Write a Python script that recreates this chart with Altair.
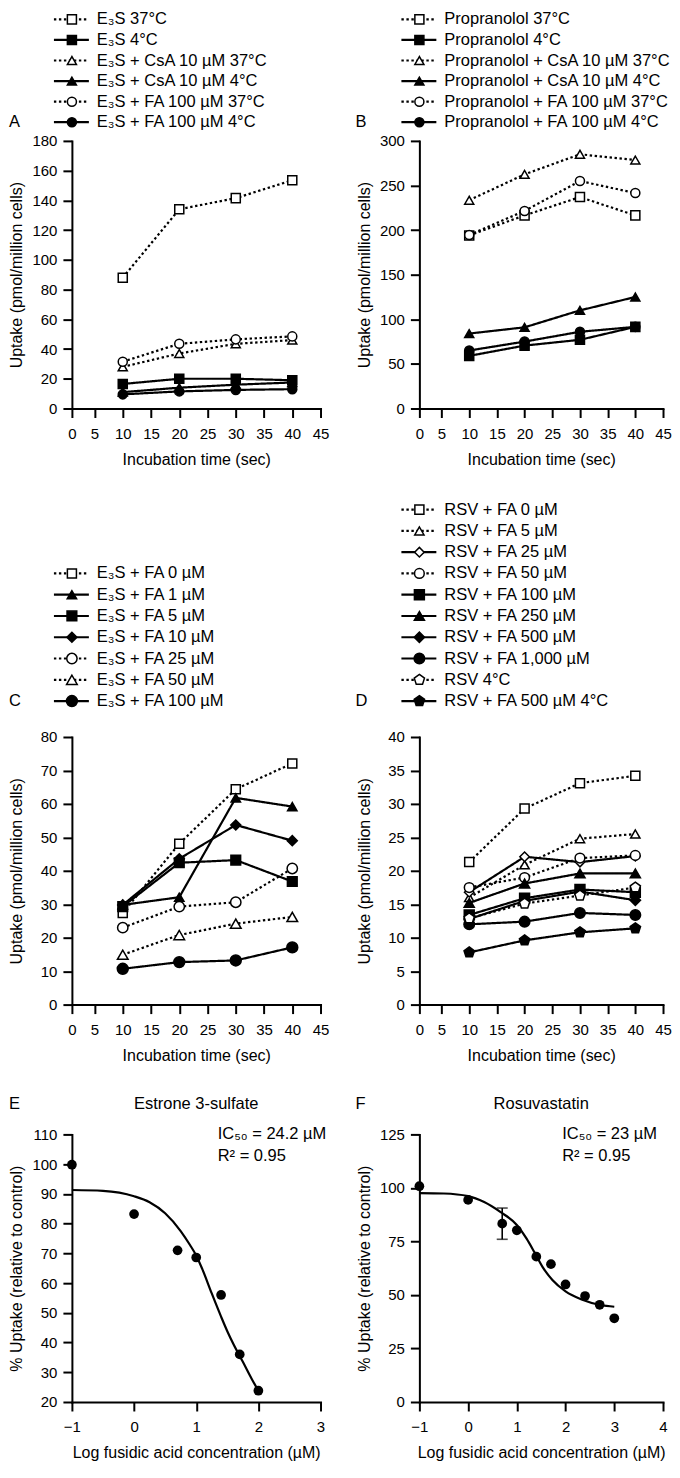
import altair as alt
import pandas as pd

FONT = "Liberation Sans"
INK = "#000000"

# ---------------- data ----------------
times = [10, 20, 30, 40]

a_labels = ["E₃S 37°C", "E₃S 4°C", "E₃S + CsA 10 µM 37°C", "E₃S + CsA 10 µM 4°C",
            "E₃S + FA 100 µM 37°C", "E₃S + FA 100 µM 4°C"]
a_e3s_37 = [88, 134, 141.5, 153.5]
a_e3s_4 = [16.5, 20, 20, 19]
a_csa_37 = [28, 37, 43.5, 46]
a_csa_4 = [11, 14, 16, 17.5]
a_fa_37 = [31.5, 43.5, 46.5, 48.5]
a_fa_4 = [9.5, 11.5, 12.5, 13]

b_labels = ["Propranolol 37°C", "Propranolol 4°C", "Propranolol + CsA 10 µM 37°C",
            "Propranolol + CsA 10 µM 4°C", "Propranolol + FA 100 µM 37°C",
            "Propranolol + FA 100 µM 4°C"]
b_p_37 = [194, 216.5, 237, 216.5]
b_p_4 = [59, 70.5, 77, 91.5]
b_csa_37 = [233.5, 262.5, 285, 278.5]
b_csa_4 = [84, 91, 110, 125]
b_fa_37 = [194.5, 221.5, 255, 241.5]
b_fa_4 = [65, 75, 86, 91.5]

c_labels = ["E₃S + FA 0 µM", "E₃S + FA 1 µM", "E₃S + FA 5 µM", "E₃S + FA 10 µM",
            "E₃S + FA 25 µM", "E₃S + FA 50 µM", "E₃S + FA 100 µM"]
c_fa0 = [27.4, 48.1, 64.4, 72.1]
c_fa1 = [29.8, 32.1, 61.8, 59.2]
c_fa5 = [29.3, 42.4, 43.2, 36.8]
c_fa10 = [29.8, 43.6, 53.7, 49.0]
c_fa25 = [23.0, 29.3, 30.6, 40.7]
c_fa50 = [14.9, 20.8, 24.2, 26.2]
c_fa100 = [10.7, 12.7, 13.2, 17.1]

d_labels = ["RSV + FA 0 µM", "RSV + FA 5 µM", "RSV + FA 25 µM", "RSV + FA 50 µM",
            "RSV + FA 100 µM", "RSV + FA 250 µM", "RSV + FA 500 µM", "RSV + FA 1,000 µM",
            "RSV 4°C", "RSV + FA 500 µM 4°C"]
d_fa0 = [21.3, 29.3, 33.1, 34.2]
d_fa5 = [16.0, 20.9, 24.8, 25.5]
d_fa25 = [16.8, 22.1, 21.3, 22.2]
d_fa50 = [17.5, 19.0, 21.9, 22.3]
d_fa100 = [13.4, 15.9, 17.2, 16.8]
d_fa250 = [15.2, 18.1, 19.6, 19.6]
d_fa500 = [12.8, 15.5, 16.9, 15.6]
d_fa1000 = [12.0, 12.4, 13.7, 13.4]
d_4c = [12.9, 15.1, 16.3, 17.5]
d_fa500_4c = [7.8, 9.6, 10.8, 11.4]

# E: estrone 3-sulfate inhibition (log concentration)
e_logc = [-1, 0, 0.7, 1, 1.4, 1.7, 2]
e_uptake = [99.8, 83.2, 71.0, 68.6, 56.0, 36.0, 23.8]
e_fit_x = [-1, -0.5, 0, 0.25, 0.5, 0.75, 0.9, 1.0, 1.1, 1.25, 1.4, 1.5, 1.6, 1.75, 1.9, 2.0]
e_fit_y = [91.3, 91.0, 89.2, 87.2, 83.5, 77.5, 72.8, 69.3, 64.6, 56.5, 48.7, 43.8, 39.4, 33.5, 27.5, 23.8]

# F: rosuvastatin inhibition
f_logc = [-1, 0, 0.7, 1, 1.4, 1.7, 2, 2.4, 2.7, 3]
f_uptake = [100.8, 94.4, 83.3, 80.2, 67.9, 64.4, 54.9, 49.5, 45.4, 39.1]
f_err_x = [0.7]
f_err_lo = [76.0]
f_err_hi = [90.6]
f_fit_x = [-1, -0.5, 0, 0.33, 0.66, 1.0, 1.2, 1.36, 1.53, 1.73, 2.0, 2.33, 2.72, 3.0]
f_fit_y = [97.6, 97.4, 96.2, 93.4, 88.8, 82.7, 76.3, 70.0, 63.0, 57.0, 51.7, 47.9, 45.3, 44.5]

# ---------------- styles ----------------
PENT = "M0,-1L0.951,-0.309L0.588,0.809L-0.588,0.809L-0.951,-0.309Z"
SHAPE_SIZE = {"square": 82, "triangle-up": 120, "circle": 82, "diamond": 115, PENT: 110}
DOT = [2.4, 2.6]
SOLID = [1, 0]
LEG_FS = 16.5

ab_shapes = ["square", "square", "triangle-up", "triangle-up", "circle", "circle"]
ab_filled = [False, True, False, True, False, True]
ab_dotted = [True, False, True, False, True, False]
c_shapes = ["square", "triangle-up", "square", "diamond", "circle", "triangle-up", "circle"]
c_filled = [False, True, True, True, False, False, True]
c_dotted = [True, False, False, False, True, True, False]
d_shapes = ["square", "triangle-up", "diamond", "circle", "square", "triangle-up",
            "diamond", "circle", PENT, PENT]
d_filled = [False, False, False, False, True, True, True, True, False, True]
d_dotted = [True, True, False, True, False, False, False, False, True, False]

# ---------------- layout ----------------
COL1_W = 249
COL2_W = 244
COL_GAP = 99
PLOT_H = 268
LEG1_H = 132
LEG1_STEP = 20.6
LEG3_H = 329
LEG3_STEP = 21.3
LEG3_BOTTOM = 25.35
HDR_H = 130
LETTER_X1 = -63
LETTER_X2 = -64

AXIS_BASE = dict(domainColor=INK, domainWidth=2, domainCap="square", tickColor=INK,
                 tickWidth=2, tickSize=9, labelColor=INK, labelFont=FONT,
                 labelFontSize=15, titleFont=FONT, titleFontSize=16,
                 titleFontWeight="normal", titleColor=INK, grid=False,
                 labelFlush=False, labelOverlap=False)
X_AXIS = dict(AXIS_BASE, labelPadding=9, titlePadding=10)
Y_AXIS = dict(AXIS_BASE, labelPadding=6, titleAngle=270, titleX=-55, titleY=PLOT_H / 2,
              titleAlign="center", titleBaseline="middle")
TIME_TICKS = [1, 5, 10, 15, 20, 25, 30, 35, 40, 45]


def style_enc(labels, shapes, filled, dotted):
    return dict(
        strokeDash=alt.StrokeDash("series:N", legend=None,
                                  scale=alt.Scale(domain=labels,
                                                  range=[DOT if d else SOLID for d in dotted])),
        shape=alt.Shape("series:N", legend=None,
                        scale=alt.Scale(domain=labels, range=shapes)),
        fill=alt.Fill("series:N", legend=None,
                      scale=alt.Scale(domain=labels,
                                      range=[INK if f else "#ffffff" for f in filled])),
        size=alt.Size("series:N", legend=None,
                      scale=alt.Scale(domain=labels, range=[SHAPE_SIZE[s] for s in shapes])),
    )


def band_scale(labels, height, step, bottom_gap):
    n = len(labels)
    bottom = height - bottom_gap
    top = bottom - n * step
    return alt.Scale(type="band", domain=labels, paddingInner=0, paddingOuter=0,
                     range=[top, bottom])


def legend_panel(labels, shapes, filled, dotted, letter, letter_x, width, height, step,
                 bottom_gap):
    df = pd.DataFrame({"series": labels})
    y = alt.Y("series:N", axis=None, scale=band_scale(labels, height, step, bottom_gap))
    enc = style_enc(labels, shapes, filled, dotted)
    rule = alt.Chart(df).mark_rule(color=INK, strokeWidth=2.2).encode(
        y=y, x=alt.value(-18), x2=alt.value(17), strokeDash=enc["strokeDash"])
    pts = alt.Chart(df).mark_point(filled=True, stroke=INK, strokeWidth=1.5, opacity=1).encode(
        y=y, x=alt.value(0), shape=enc["shape"], fill=enc["fill"], size=enc["size"])
    txt = alt.Chart(df).mark_text(align="left", baseline="middle", font=FONT, fontSize=LEG_FS,
                                  color=INK).encode(y=y, x=alt.value(25), text="series:N")
    let = alt.Chart(pd.DataFrame({"series": [labels[-1]], "letter": [letter]})).mark_text(
        align="left", baseline="middle", font=FONT, fontSize=LEG_FS, color=INK).encode(
        y=y, x=alt.value(letter_x), text="letter:N")
    return alt.layer(rule, pts, txt, let).properties(width=width, height=height)


def time_panel(labels, series, shapes, filled, dotted, ymax, ystep, width):
    rows = []
    for lab, vals in zip(labels, series):
        for t, v in zip(times, vals):
            rows.append({"series": lab, "time": t, "value": v})
    df = pd.DataFrame(rows)
    x = alt.X("time:Q", scale=alt.Scale(domain=[1, 45], nice=False, zero=False),
              axis=alt.Axis(values=TIME_TICKS,
                            labelExpr="datum.value == 1 ? '0' : datum.label",
                            title="Incubation time (sec)", **X_AXIS))
    y = alt.Y("value:Q", scale=alt.Scale(domain=[0, ymax], nice=False),
              axis=alt.Axis(values=list(range(0, ymax + 1, ystep)),
                            title="Uptake (pmol/million cells)", **Y_AXIS))
    enc = style_enc(labels, shapes, filled, dotted)
    lines = alt.Chart(df).mark_line(color=INK, strokeWidth=2.2).encode(
        x=x, y=y, detail="series:N", strokeDash=enc["strokeDash"])
    pts = alt.Chart(df).mark_point(filled=True, stroke=INK, strokeWidth=1.5, opacity=1).encode(
        x=x, y=y, shape=enc["shape"], fill=enc["fill"], size=enc["size"])
    return alt.layer(lines, pts).properties(width=width, height=PLOT_H)


def ic_panel(px, py, cx, cy, xmin, xmax, ymin, ymax, ystep, width, ic_text, r2_text,
             err=None):
    x = alt.X("x:Q", scale=alt.Scale(domain=[xmin, xmax], nice=False, zero=False),
              axis=alt.Axis(values=list(range(xmin, xmax + 1)),
                            title="Log fusidic acid concentration (µM)", **X_AXIS))
    y = alt.Y("y:Q", scale=alt.Scale(domain=[ymin, ymax], nice=False, zero=False),
              axis=alt.Axis(values=list(range(ymin, ymax + 1, ystep)),
                            title="% Uptake (relative to control)", **Y_AXIS))
    curve = alt.Chart(pd.DataFrame({"x": cx, "y": cy})).mark_line(
        color=INK, strokeWidth=2.2, interpolate="monotone").encode(x=x, y=y)
    dots = alt.Chart(pd.DataFrame({"x": px, "y": py})).mark_circle(
        color=INK, size=95, opacity=1).encode(x=x, y=y)
    layers = [curve]
    if err is not None:
        ex, lo, hi = err
        bar = alt.Chart(pd.DataFrame({"x": ex, "y": lo, "hi": hi})).mark_rule(
            color=INK, strokeWidth=1.6).encode(x=x, y=y, y2="hi:Q")
        caps = alt.Chart(pd.DataFrame({"x": ex + ex, "y": lo + hi})).mark_tick(
            color=INK, orient="horizontal", size=11, thickness=1.6).encode(x=x, y=y)
        layers += [bar, caps]
    layers.append(dots)
    ann_x = round(0.585 * width)
    for i, t in enumerate([ic_text, r2_text]):
        layers.append(alt.Chart(pd.DataFrame({"t": [t]})).mark_text(
            align="left", baseline="middle", font=FONT, fontSize=LEG_FS, color=INK).encode(
            x=alt.value(ann_x), y=alt.value(21.5 * i), text="t:N"))
    return alt.layer(*layers).properties(width=width, height=PLOT_H)


def header_panel(letter, title, letter_x, width):
    ty = HDR_H - 30.5
    t = alt.Chart(pd.DataFrame({"t": [title]})).mark_text(
        align="center", baseline="middle", font=FONT, fontSize=LEG_FS, color=INK).encode(
        x=alt.value(width / 2), y=alt.value(ty), text="t:N")
    l = alt.Chart(pd.DataFrame({"t": [letter]})).mark_text(
        align="left", baseline="middle", font=FONT, fontSize=LEG_FS, color=INK).encode(
        x=alt.value(letter_x), y=alt.value(ty), text="t:N")
    return alt.layer(t, l).properties(width=width, height=HDR_H)


leg1_bottom = LEG1_H - 6 * LEG1_STEP

legA = legend_panel(a_labels, ab_shapes, ab_filled, ab_dotted, "A", LETTER_X1, COL1_W,
                    LEG1_H, LEG1_STEP, leg1_bottom)
legB = legend_panel(b_labels, ab_shapes, ab_filled, ab_dotted, "B", LETTER_X2, COL2_W,
                    LEG1_H, LEG1_STEP, leg1_bottom)
plotA = time_panel(a_labels, [a_e3s_37, a_e3s_4, a_csa_37, a_csa_4, a_fa_37, a_fa_4],
                   ab_shapes, ab_filled, ab_dotted, 180, 20, COL1_W)
plotB = time_panel(b_labels, [b_p_37, b_p_4, b_csa_37, b_csa_4, b_fa_37, b_fa_4],
                   ab_shapes, ab_filled, ab_dotted, 300, 50, COL2_W)
legC = legend_panel(c_labels, c_shapes, c_filled, c_dotted, "C", LETTER_X1, COL1_W,
                    LEG3_H, LEG3_STEP, LEG3_BOTTOM)
legD = legend_panel(d_labels, d_shapes, d_filled, d_dotted, "D", LETTER_X2, COL2_W,
                    LEG3_H, LEG3_STEP, LEG3_BOTTOM)
plotC = time_panel(c_labels, [c_fa0, c_fa1, c_fa5, c_fa10, c_fa25, c_fa50, c_fa100],
                   c_shapes, c_filled, c_dotted, 80, 10, COL1_W)
plotD = time_panel(d_labels, [d_fa0, d_fa5, d_fa25, d_fa50, d_fa100, d_fa250, d_fa500,
                              d_fa1000, d_4c, d_fa500_4c],
                   d_shapes, d_filled, d_dotted, 40, 5, COL2_W)
hdrE = header_panel("E", "Estrone 3-sulfate", LETTER_X1, COL1_W)
hdrF = header_panel("F", "Rosuvastatin", LETTER_X2, COL2_W)
plotE = ic_panel(e_logc, e_uptake, e_fit_x, e_fit_y, -1, 3, 20, 110, 10, COL1_W,
                 "IC₅₀ = 24.2 µM", "R² = 0.95")
plotF = ic_panel(f_logc, f_uptake, f_fit_x, f_fit_y, -1, 4, 0, 125, 25, COL2_W,
                 "IC₅₀ = 23 µM", "R² = 0.95", err=(f_err_x, f_err_lo, f_err_hi))

chart = alt.concat(
    legA, legB, plotA, plotB, legC, legD, plotC, plotD, hdrE, hdrF, plotE, plotF,
    columns=2, bounds="flush", align="each", spacing={"row": 0, "column": COL_GAP},
).resolve_scale(
    shape="independent", fill="independent", strokeDash="independent", size="independent"
).properties(padding=0, background="white").configure(font=FONT).configure_view(stroke=None)

chart.save("out.html", embed_options={"renderer": "svg", "actions": False})
